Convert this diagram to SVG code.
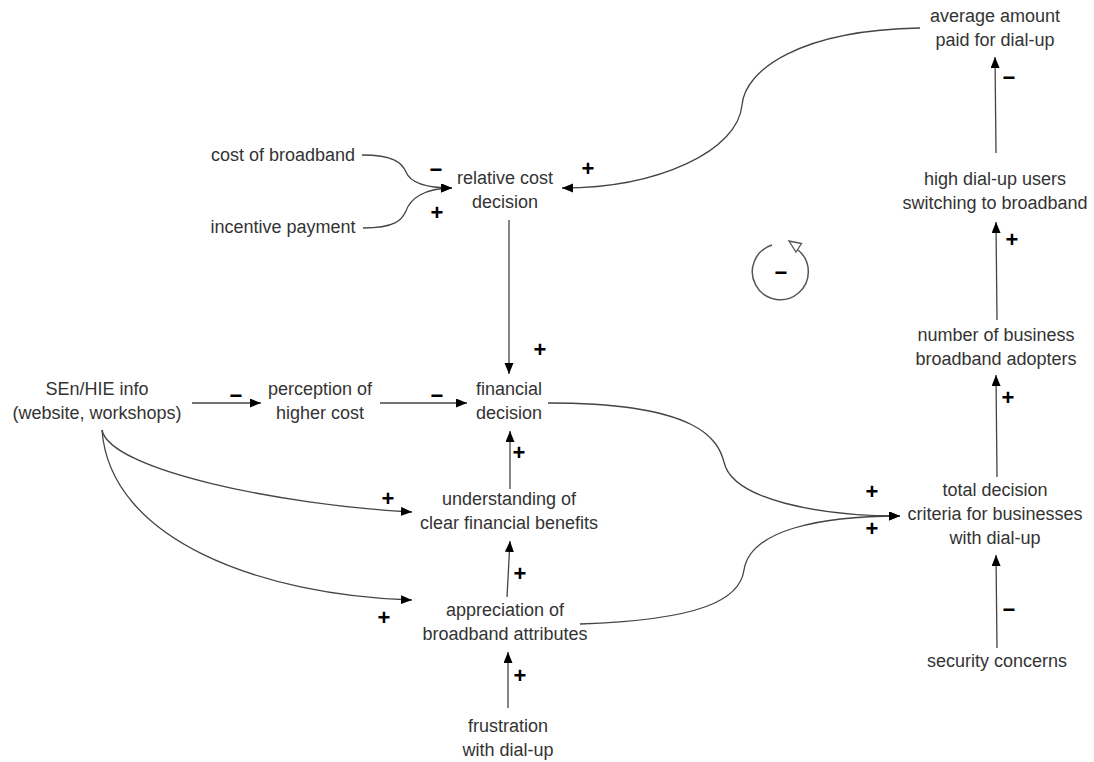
<svg xmlns="http://www.w3.org/2000/svg" width="1094" height="762" viewBox="0 0 1094 762">
  <style>
    .lbl { font-family: "Liberation Sans", Arial, sans-serif; font-size: 18px; fill: #333; text-anchor: middle; }
    .sign { font-family: "Liberation Sans", Arial, sans-serif; font-size: 22px; font-weight: bold; fill: #000; text-anchor: middle; }
    .link { fill: none; stroke: #444; stroke-width: 1.3; marker-end: url(#head); }
  </style>
  <defs>
    <marker id="head" markerUnits="userSpaceOnUse" markerWidth="12" markerHeight="10" refX="11" refY="4.5" orient="auto">
      <path d="M0,0 L11,4.5 L0,9 z" fill="#000"/>
    </marker>
  </defs>
  <rect width="1094" height="762" fill="#fff"/>

  <!-- connectors -->
  <g id="connectors">
    <path class="link" d="M362,155 C394,155 402,163 406,172 C410,182 424,188 452,188"/>
    <path class="link" d="M363,228 C395,228 402,220 406,211 C410,199 424,188 452,188"/>
    <path class="link" d="M920,28 C800,30 745,70 742,105 C738,150 660,188 562,188"/>
    <path class="link" d="M509,220 L509,374"/>
    <path class="link" d="M192,403 L261,403"/>
    <path class="link" d="M380,403 L467,403"/>
    <path class="link" d="M510,489 L510,431"/>
    <path class="link" d="M507,597 L510,541"/>
    <path class="link" d="M508,708 L508,652"/>
    <path class="link" d="M102,430 C110,470 280,505 412,512"/>
    <path class="link" d="M102,430 C110,540 260,595 412,600"/>
    <path class="link" d="M548,403 C700,403 718,440 724,462 C732,500 820,516 900,516"/>
    <path class="link" d="M580,624 C700,620 740,600 744,570 C750,530 820,516 900,516"/>
    <path class="link" d="M997,648 L996,555"/>
    <path class="link" d="M997,477 L996,375"/>
    <path class="link" d="M997,320 L996,222"/>
    <path class="link" d="M996,153 L995,57"/>
  </g>

  <!-- polarity signs -->
  <g id="signs">
    <text class="sign" x="436" y="177">−</text>
    <text class="sign" x="437" y="220">+</text>
    <text class="sign" x="588" y="176">+</text>
    <text class="sign" x="540" y="357">+</text>
    <text class="sign" x="236" y="403">−</text>
    <text class="sign" x="437" y="403">−</text>
    <text class="sign" x="519" y="460">+</text>
    <text class="sign" x="388" y="506">+</text>
    <text class="sign" x="520" y="581">+</text>
    <text class="sign" x="384" y="625">+</text>
    <text class="sign" x="520" y="683">+</text>
    <text class="sign" x="872" y="499">+</text>
    <text class="sign" x="872" y="536">+</text>
    <text class="sign" x="1009" y="617">−</text>
    <text class="sign" x="1008" y="405">+</text>
    <text class="sign" x="1012" y="247">+</text>
    <text class="sign" x="1009" y="85">−</text>
  </g>

  <!-- loop marker -->
  <g id="loop">
    <path d="M772,245 A28,28 0 1 0 798,250" fill="none" stroke="#555" stroke-width="1.5"/>
    <polygon points="789,241 801.5,243.5 796,252" fill="#fff" stroke="#555" stroke-width="1.3"/>
    <text class="sign" x="781" y="280">−</text>
  </g>

  <g id="avg-paid"><text class="lbl" x="995" y="22">average amount</text><text class="lbl" x="995" y="46">paid for dial-up</text></g>
  <g id="switching"><text class="lbl" x="995" y="185">high dial-up users</text><text class="lbl" x="995" y="209">switching to broadband</text></g>
  <g id="adopters"><text class="lbl" x="996" y="341">number of business</text><text class="lbl" x="996" y="365">broadband adopters</text></g>
  <g id="total-criteria"><text class="lbl" x="995" y="496">total decision</text><text class="lbl" x="995" y="520">criteria for businesses</text><text class="lbl" x="995" y="544">with dial-up</text></g>
  <g id="security"><text class="lbl" x="997" y="667">security concerns</text></g>
  <g id="cost-broadband"><text class="lbl" x="283" y="161">cost of broadband</text></g>
  <g id="incentive"><text class="lbl" x="283" y="233">incentive payment</text></g>
  <g id="relative-cost"><text class="lbl" x="505" y="184">relative cost</text><text class="lbl" x="505" y="208">decision</text></g>
  <g id="sen-info"><text class="lbl" x="97" y="395">SEn/HIE info</text><text class="lbl" x="97" y="419">(website, workshops)</text></g>
  <g id="perception"><text class="lbl" x="320" y="395">perception of</text><text class="lbl" x="320" y="419">higher cost</text></g>
  <g id="financial"><text class="lbl" x="509" y="395">financial</text><text class="lbl" x="509" y="419">decision</text></g>
  <g id="understanding"><text class="lbl" x="509" y="505">understanding of</text><text class="lbl" x="509" y="529">clear financial benefits</text></g>
  <g id="appreciation"><text class="lbl" x="505" y="616">appreciation of</text><text class="lbl" x="505" y="640">broadband attributes</text></g>
  <g id="frustration"><text class="lbl" x="508" y="732">frustration</text><text class="lbl" x="508" y="756">with dial-up</text></g>
</svg>
